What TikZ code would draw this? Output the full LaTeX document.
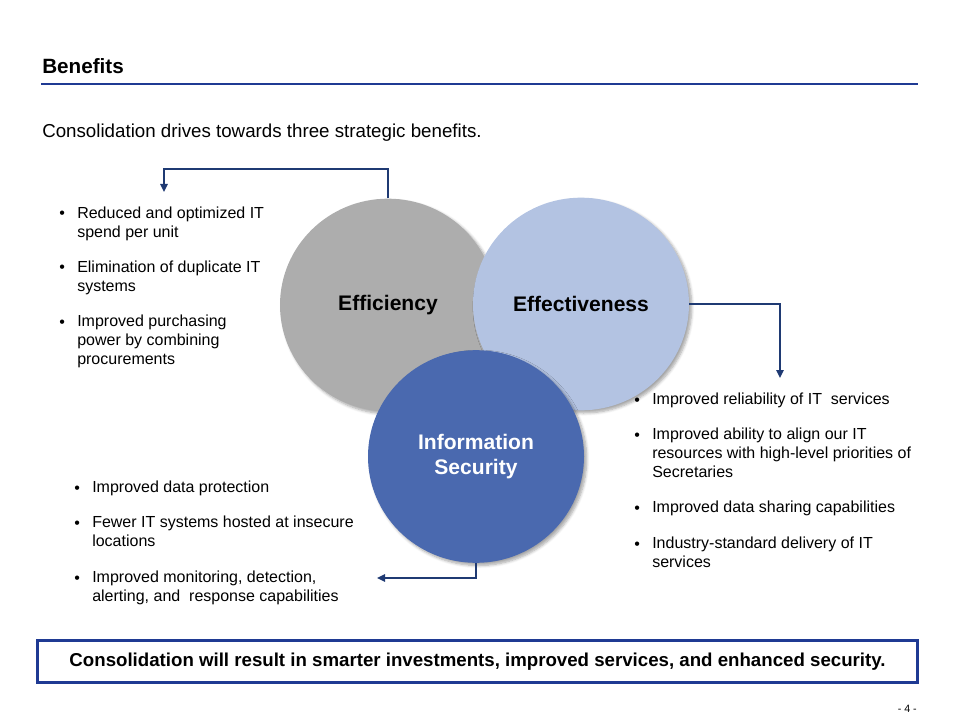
\documentclass[tikz,border=0pt]{standalone}
\usepackage{fontspec}
\setmainfont{Liberation Sans}
\usetikzlibrary{arrows.meta,shadows.blur,shapes.geometric}
\definecolor{navy}{HTML}{1F3A73}
\definecolor{rulecol}{HTML}{1F3A93}
\definecolor{effgray}{HTML}{ADADAD}
\definecolor{eftblue}{HTML}{B3C3E2}
\definecolor{secblue}{HTML}{4A69AF}
\tikzset{
  bigcirc/.style={ellipse, minimum width=162pt, minimum height=159.5pt, inner sep=0pt, font=\fontsize{15.8}{18.5}\selectfont\bfseries, align=center,
    blur shadow={shadow xshift=2pt, shadow yshift=-2pt, shadow blur steps=6, shadow opacity=35}},
  conn/.style={draw=navy, line width=1.2pt, -{Triangle[length=6pt,width=5.5pt]}},
  itm/.style={anchor=north west, inner sep=0pt, align=left, font=\fontsize{12}{14.25}\selectfont},
  bul/.style={anchor=north west, inner sep=0pt, text height=8.8pt, font=\fontsize{12}{14.25}\selectfont},
}
\begin{document}
\begin{tikzpicture}[x=0.75pt,y=-0.75pt]
\useasboundingbox (0,0) rectangle (960,720);
% title
\node[anchor=base west, inner sep=0pt, font=\fontsize{15.5}{18}\selectfont\bfseries] (title) at (42,74) {Benefits};
\draw[rulecol, line width=1.6pt] (41,84) -- (918,84);
\node[anchor=base west, inner sep=0pt, font=\fontsize{14.05}{17}\selectfont] (sub) at (42,138) {Consolidation drives towards three strategic benefits.};
% circles
\node[bigcirc, fill=effgray] (eff) at (388,305) {Efficiency};
\node[bigcirc, fill=eftblue] (eft) at (581,304) {Effectiveness};
\node[bigcirc, fill=secblue, text=white] (sec) at (476,456.5) {Information\\Security};
% connectors
\coordinate (c1) at (164,169);
\coordinate (a1) at (164,192);
\coordinate (a2) at (780,378);
\coordinate (a3) at (377,578);
\draw[conn] (eff.north) |- (c1) -- (a1);
\draw[conn] (eft.east) -| (a2);
\draw[conn] (sec.south) |- (a3);
% left bullets
\node[bul] (lb1) at (59,207) {•};
\node[itm] (l1) at (77,207) {Reduced and optimized IT\\spend per unit};
\node[bul] (lb2) at (59,261) {•};
\node[itm] (l2) at (77,261) {Elimination of duplicate IT\\systems};
\node[bul] (lb3) at (59,315) {•};
\node[itm] (l3) at (77,315) {Improved purchasing\\power by combining\\procurements};
% right bullets
\node[bul] (rb1) at (634,393) {•};
\node[itm] (r1) at (652,393) {Improved reliability of IT\ \ services};
\node[bul] (rb2) at (634,428) {•};
\node[itm] (r2) at (652,428) {Improved ability to align our IT\\resources with high-level priorities of\\Secretaries};
\node[bul] (rb3) at (634,501) {•};
\node[itm] (r3) at (652,501) {Improved data sharing capabilities};
\node[bul] (rb4) at (634,537) {•};
\node[itm] (r4) at (652,537) {Industry-standard delivery of IT\\services};
% bottom-left bullets
\node[bul] (bb1) at (74,481) {•};
\node[itm] (b1) at (92,481) {Improved data protection};
\node[bul] (bb2) at (74,516) {•};
\node[itm] (b2) at (92,516) {Fewer IT systems hosted at insecure\\locations};
\node[bul] (bb3) at (74,571) {•};
\node[itm] (b3) at (92,571) {Improved monitoring, detection,\\alerting, and\ \ response capabilities};
% bottom box
\node[draw=rulecol, line width=1.6pt, minimum width=660pt, minimum height=31.5pt, inner sep=0pt,
  font=\fontsize{14}{16.5}\selectfont\bfseries] (box) at (477.5,661.5)
  {Consolidation will result in smarter investments, improved services, and enhanced security.};
\node[anchor=base east, inner sep=0pt, font=\fontsize{8}{10}\selectfont] (pg) at (917,712) {- 4 -};
\end{tikzpicture}
\end{document}
